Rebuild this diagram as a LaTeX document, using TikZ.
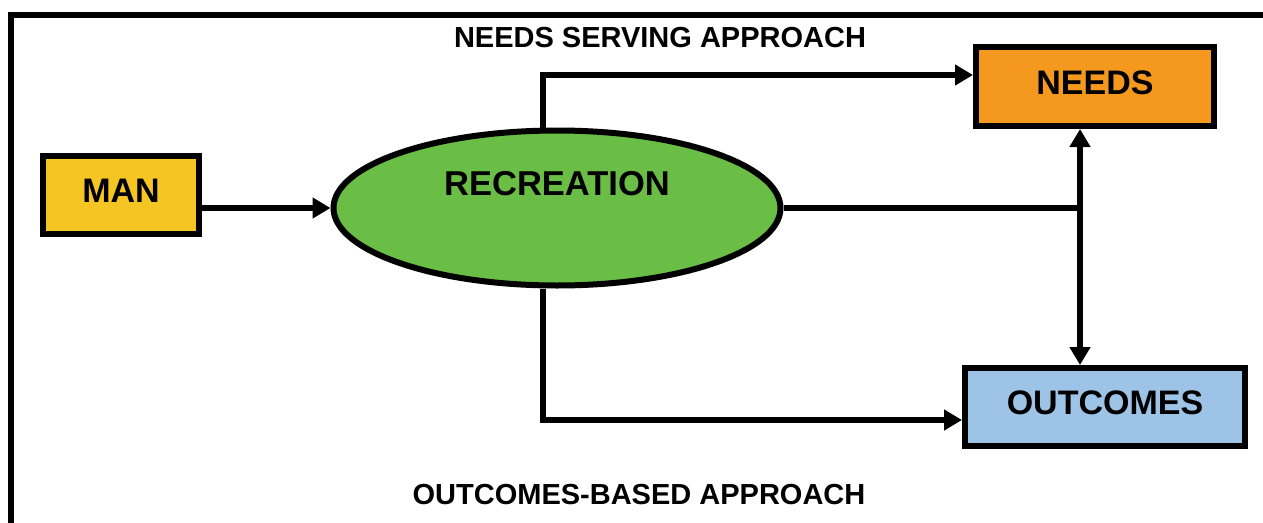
\documentclass[tikz,border=0pt]{standalone}
\usepackage{fontspec}
\setmainfont{Liberation Sans}
\usetikzlibrary{arrows.meta,shapes.geometric}
\definecolor{manyellow}{HTML}{F5C623}
\definecolor{needsorange}{HTML}{F4991E}
\definecolor{outblue}{HTML}{9DC3E6}
\definecolor{recgreen}{HTML}{6ABD45}
\tikzset{
  box/.style={draw=black, line width=6pt, rectangle, inner sep=0pt, text depth=8pt,
    font=\fontsize{34}{40}\selectfont\bfseries},
  oval/.style={draw=black, line width=6pt, ellipse, inner sep=0pt},
  conn/.style={line width=5.5pt, draw=black},
  tip/.style={-{Triangle[length=18pt,width=20pt]}},
  title/.style={font=\fontsize{29}{34}\selectfont\bfseries, inner sep=0pt}
}
\begin{document}
\begin{tikzpicture}[x=1pt,y=1pt]
\useasboundingbox (0,0) rectangle (1263,-522);
\draw[line width=6pt] (11,-530) -- (11,-14.5) -- (1270,-14.5);

\node[title] (t1) at (660,-38) {NEEDS SERVING APPROACH};
\node[title] (t2) at (639,-495) {OUTCOMES-BASED APPROACH};

\node[box, fill=manyellow, minimum width=156pt, minimum height=78pt] (man) at (121,-195) {MAN};
\node[oval, fill=recgreen, minimum width=447pt, minimum height=155pt,
  label={[font=\fontsize{34.5}{40}\selectfont\bfseries, yshift=24pt]center:RECREATION}] (rec) at (557,-208) {};
\node[box, fill=needsorange, minimum width=238pt, minimum height=79pt] (needs) at (1095,-86.5) {NEEDS};
\node[box, fill=outblue, minimum width=280pt, minimum height=78pt] (out) at (1105,-407) {OUTCOMES};

\coordinate (jn) at (1080,-208);

\draw[conn, tip] (man.east |- rec.west) -- (rec.west);
\draw[conn, tip] ([xshift=-14pt]rec.north) |- ([yshift=11.5pt]needs.west);
\draw[conn, tip] ([xshift=-14pt]rec.south) |- ([yshift=-13pt]out.west);
\draw[conn] (rec.east) -- (jn);
\draw[conn, {Triangle[length=18pt,width=20pt]}-{Triangle[length=18pt,width=20pt]}] ([xshift=-15pt]needs.south) -- ([xshift=-25pt]out.north);
\end{tikzpicture}
\end{document}
